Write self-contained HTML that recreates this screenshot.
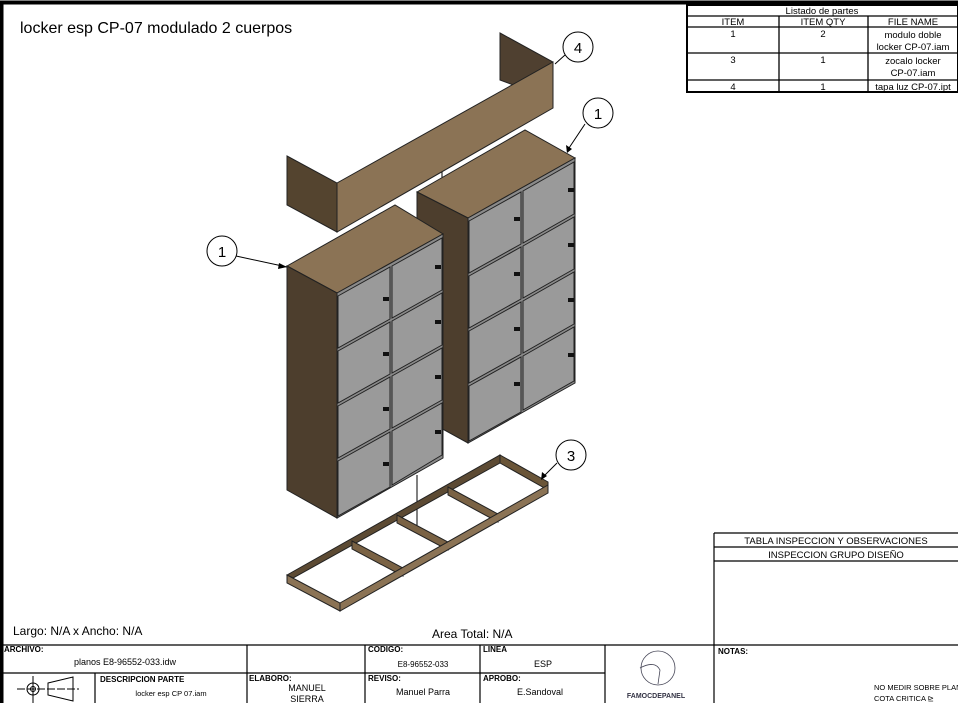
<!DOCTYPE html>
<html><head><meta charset="utf-8"><style>
body{margin:0;background:#fff}
svg{display:block;font-family:"Liberation Sans",sans-serif}
</style></head><body>
<svg width="958" height="703" viewBox="0 0 958 703" xmlns="http://www.w3.org/2000/svg">
<rect x="0" y="0" width="958" height="703" fill="#fff"/>
<rect x="1.5" y="2.5" width="960" height="710" fill="none" stroke="#000" stroke-width="4"/>
<text x="20" y="33" font-size="16">locker esp  CP-07 modulado 2 cuerpos</text>

<!-- parts table -->
<g stroke="#000" stroke-width="1.3" fill="none">
<rect x="687" y="5" width="271" height="87" stroke-width="2"/>
<line x1="687" y1="16" x2="958" y2="16"/><line x1="687" y1="27" x2="958" y2="27"/>
<line x1="687" y1="53" x2="958" y2="53"/><line x1="687" y1="80" x2="958" y2="80"/>
<line x1="779" y1="16" x2="779" y2="92"/><line x1="868" y1="16" x2="868" y2="92"/>
</g>
<g font-size="9.5" text-anchor="middle">
<text x="822" y="14">Listado de partes</text>
<text x="733" y="25">ITEM</text><text x="823" y="25">ITEM QTY</text><text x="913" y="25">FILE NAME</text>
<text x="733" y="37">1</text><text x="823" y="37">2</text><text x="913" y="38">modulo doble</text><text x="913" y="50">locker CP-07.iam</text>
<text x="733" y="63">3</text><text x="823" y="63">1</text><text x="913" y="64">zocalo locker</text><text x="913" y="76">CP-07.iam</text>
<text x="733" y="90">4</text><text x="823" y="90">1</text><text x="913" y="90">tapa luz CP-07.ipt</text>
</g>

<!-- top panel item 4 -->
<g stroke="#222" stroke-width="1">
<polygon points="500,33 553,62 553,100 500,80" fill="#4f4030"/>
<polygon points="553,62 553,108 337,232 337,183" fill="#8b7355"/>
<polygon points="287,156 337,183 337,232 287,205" fill="#54442f"/>
</g>
<line x1="442" y1="172" x2="442" y2="212" stroke="#000"/>

<!-- right cabinet -->
<g stroke="#222" stroke-width="1">
<polygon points="417,192 525,130 575,158 468,218" fill="#8b7355"/>
<polygon points="417,192 468,218 468,443 417,415" fill="#4d3e2d"/>
<polygon points="468,218 575,158 575,383 468,443" fill="#8a8a8a"/>
</g>
<g fill="#9a9a9a" stroke="#222" stroke-width="1">
<polygon points="469,221 521,192 521,244 469,273"/><polygon points="523,191 574,162 574,214 523,243"/>
<polygon points="469,276 521,247 521,299 469,328"/><polygon points="523,246 574,217 574,269 523,298"/>
<polygon points="469,331 521,302 521,354 469,383"/><polygon points="523,301 574,272 574,324 523,353"/>
<polygon points="469,386 521,357 521,412 469,441"/><polygon points="523,356 574,327 574,381 523,410"/>
</g>
<g fill="#111">
<rect x="514" y="217" width="6" height="4"/><rect x="568" y="188" width="6" height="4"/>
<rect x="514" y="272" width="6" height="4"/><rect x="568" y="243" width="6" height="4"/>
<rect x="514" y="327" width="6" height="4"/><rect x="568" y="298" width="6" height="4"/>
<rect x="514" y="382" width="6" height="4"/><rect x="568" y="353" width="6" height="4"/>
</g>

<!-- left cabinet -->
<g stroke="#222" stroke-width="1">
<polygon points="287,266 395,205 443,234 337,293" fill="#8b7355"/>
<polygon points="287,266 337,293 337,518 287,490" fill="#4d3e2d"/>
<polygon points="337,293 443,234 443,458 337,518" fill="#8a8a8a"/>
</g>
<g fill="#9a9a9a" stroke="#222" stroke-width="1">
<polygon points="338,296 390,267 390,319 338,348"/><polygon points="392,266 442,238 442,290 392,318"/>
<polygon points="338,351 390,322 390,374 338,403"/><polygon points="392,321 442,293 442,345 392,373"/>
<polygon points="338,406 390,377 390,429 338,458"/><polygon points="392,376 442,348 442,400 392,428"/>
<polygon points="338,461 390,432 390,487 338,516"/><polygon points="392,431 442,403 442,455 392,485"/>
</g>
<g fill="#111">
<rect x="383" y="297" width="6" height="4"/><rect x="435" y="265" width="6" height="4"/>
<rect x="383" y="352" width="6" height="4"/><rect x="435" y="320" width="6" height="4"/>
<rect x="383" y="407" width="6" height="4"/><rect x="435" y="375" width="6" height="4"/>
<rect x="383" y="462" width="6" height="4"/><rect x="435" y="430" width="6" height="4"/>
</g>
<line x1="417" y1="475" x2="417" y2="530" stroke="#000"/>

<!-- base frame item 3 -->
<g stroke="#222" stroke-width="1" fill="#7a6244">
<polygon points="500,455 548,482 548,490 500,463" fill="#6a5538"/>
<polygon points="287,575 500,455 500,463 293,578" fill="#5c4a33"/>
<polygon points="352,541 403,568 403,576 352,549"/>
<polygon points="397,515 448,542 448,550 397,523"/>
<polygon points="448,487 498,514 498,522 448,495"/>
<polygon points="287,575 340,603 340,611 287,583" fill="#8b7355"/>
<polygon points="340,603 548,485 548,493 340,611" fill="#8b7355"/>
</g>

<!-- balloons -->
<g stroke="#000" stroke-width="1" fill="#fff">
<line x1="565" y1="55" x2="555" y2="64"/>
<line x1="585" y1="124" x2="567" y2="151"/>
<line x1="236" y1="256" x2="287" y2="267"/>
<line x1="557" y1="463" x2="542" y2="478"/>
<circle cx="578" cy="47" r="15"/><circle cx="598" cy="113" r="15"/>
<circle cx="222" cy="251" r="15"/><circle cx="571" cy="455" r="15"/>
</g>
<g fill="#000"><polygon points="567,153 566,145 572,149"/><polygon points="287,267 279,263 278,269"/><polygon points="541,480 542,472 547,476"/></g>
<g font-size="15" text-anchor="middle">
<text x="578" y="53">4</text><text x="598" y="119">1</text><text x="222" y="257">1</text><text x="571" y="461">3</text>
</g>

<!-- inspection table -->
<g stroke="#000" stroke-width="1.2" fill="none">
<line x1="714" y1="533" x2="958" y2="533"/><line x1="714" y1="547" x2="958" y2="547"/>
<line x1="714" y1="561" x2="958" y2="561"/><line x1="714" y1="533" x2="714" y2="703"/>
</g>
<g font-size="9.5" text-anchor="middle"><text x="836" y="544">TABLA INSPECCION Y OBSERVACIONES</text><text x="836" y="558">INSPECCION GRUPO DISEÑO</text></g>

<text x="13" y="635" font-size="12">Largo: N/A x Ancho: N/A</text>
<text x="432" y="638" font-size="12">Area Total: N/A</text>

<!-- title block -->
<g stroke="#000" stroke-width="1.2" fill="none">
<line x1="0" y1="645" x2="958" y2="645"/>
<line x1="0" y1="673" x2="605" y2="673"/>
<line x1="247" y1="645" x2="247" y2="703"/><line x1="365" y1="645" x2="365" y2="703"/>
<line x1="480" y1="645" x2="480" y2="703"/><line x1="605" y1="645" x2="605" y2="703"/>
<line x1="95" y1="673" x2="95" y2="703"/>
</g>
<g font-size="8" font-weight="bold">
<text x="4" y="652">ARCHIVO:</text><text x="368" y="652">CODIGO:</text><text x="483" y="652">LINEA</text>
<text x="100" y="682">DESCRIPCION PARTE</text><text x="249" y="681">ELABORO:</text><text x="368" y="681">REVISO:</text><text x="483" y="681">APROBO:</text>
<text x="718" y="654">NOTAS:</text>
</g>
<g font-size="9" text-anchor="middle">
<text x="125" y="665">planos  E8-96552-033.idw</text><text x="423" y="667" font-size="8">E8-96552-033</text><text x="543" y="667">ESP</text>
<text x="171" y="696" font-size="7.5">locker esp CP 07.iam</text>
<text x="307" y="691">MANUEL</text><text x="307" y="702">SIERRA</text>
<text x="423" y="695">Manuel Parra</text><text x="540" y="695">E.Sandoval</text>
<text x="656" y="698" font-size="7" fill="#334" font-weight="bold">FAMOCDEPANEL</text>
</g>
<g font-size="7.5"><text x="874" y="690">NO MEDIR SOBRE PLANO</text><text x="874" y="701">COTA CRITICA ⊵</text></g>
<circle cx="658" cy="668" r="17" fill="none" stroke="#445" stroke-width="0.8"/>
<path d="M640,668 Q655,660 660,670 L658,684" fill="none" stroke="#445" stroke-width="0.8"/>
<!-- projection symbol -->
<g stroke="#000" stroke-width="1" fill="none">
<circle cx="33" cy="689" r="6"/><circle cx="33" cy="689" r="2.5"/>
<line x1="17" y1="689" x2="79" y2="689" stroke-dasharray="8,2"/><line x1="33" y1="676" x2="33" y2="703"/>
<polygon points="48,683 73,677 73,701 48,695"/>
</g>
</svg>
</body></html>
